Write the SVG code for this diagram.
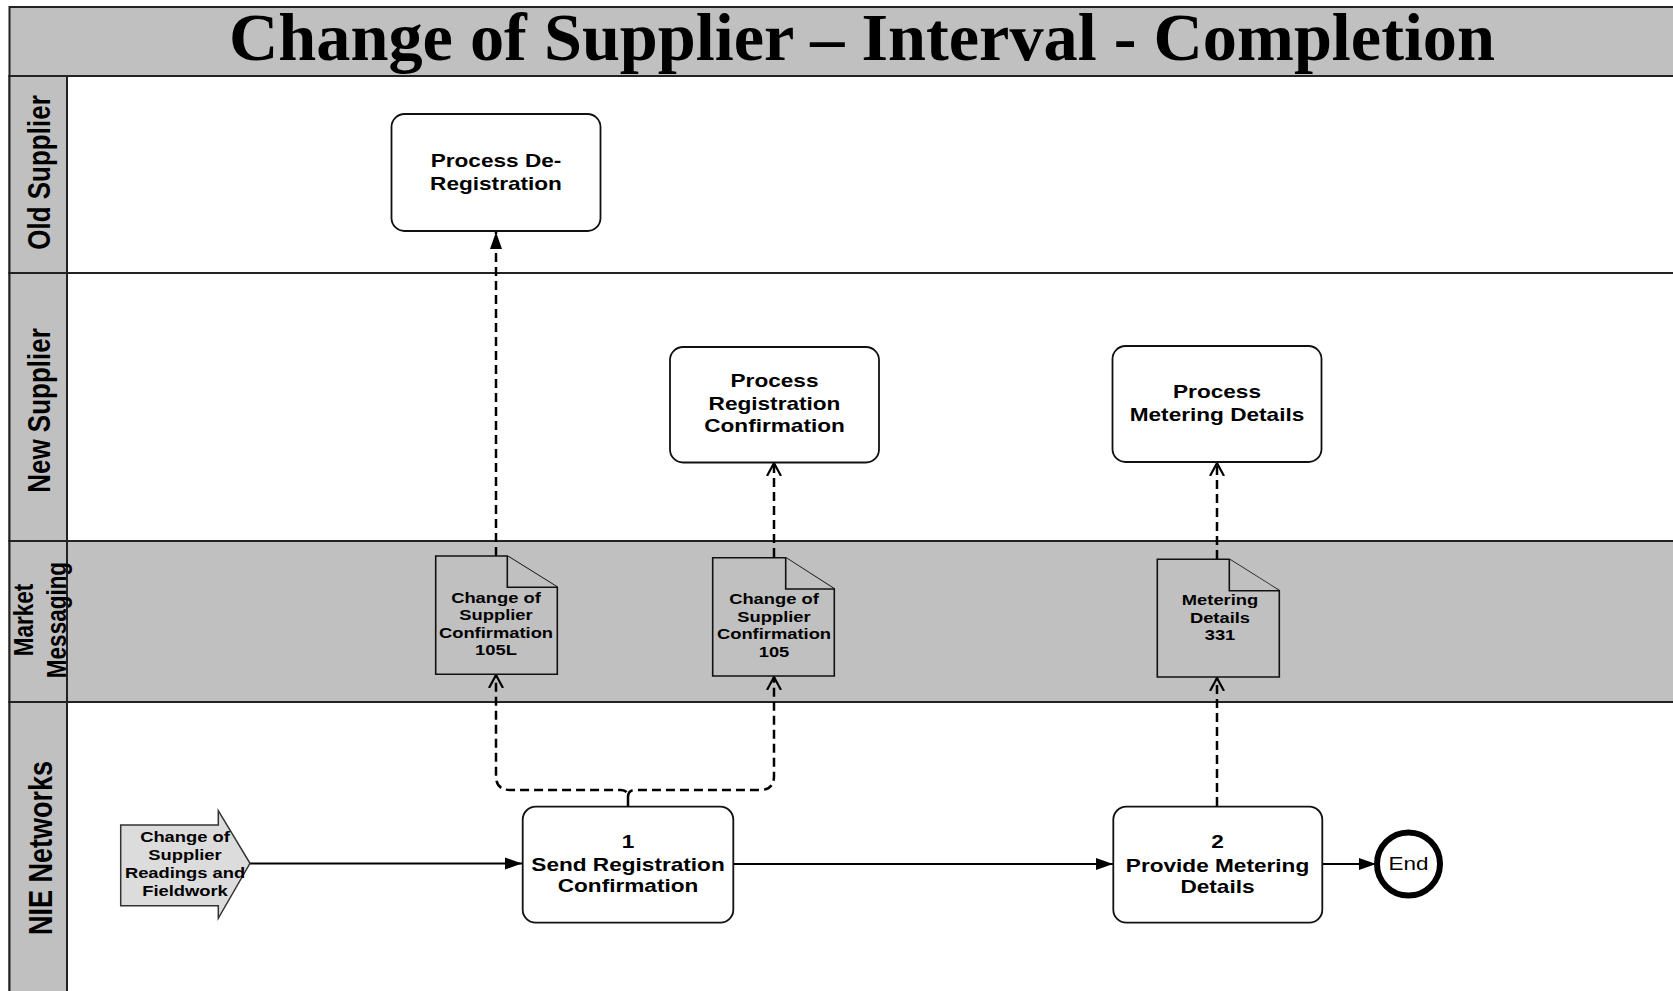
<svg xmlns="http://www.w3.org/2000/svg" width="1673" height="991" viewBox="0 0 1673 991">
<style>
.band{fill:#c0c0c0;stroke:#222;stroke-width:2}
.lane{fill:#ffffff;stroke:#222;stroke-width:2}
.lanegray{fill:#c0c0c0;stroke:#222;stroke-width:2}
.box{fill:#ffffff;stroke:#111;stroke-width:1.8}
.doc{fill:#c0c0c0;stroke:#111;stroke-width:1.6}
.lt{font-family:"Liberation Sans",Arial,sans-serif;font-weight:bold;fill:#000}
.nt{font-family:"Liberation Sans",Arial,sans-serif;font-weight:bold;font-size:19px;fill:#000;text-anchor:middle}
.dt{font-family:"Liberation Sans",Arial,sans-serif;font-weight:bold;font-size:15.3px;fill:#000;text-anchor:middle}
.solid{fill:none;stroke:#000;stroke-width:2}
.dash{fill:none;stroke:#000;stroke-width:2.5;stroke-dasharray:9 5}
</style>
<defs>
<marker id="filled" markerUnits="userSpaceOnUse" markerWidth="18" markerHeight="14" refX="17" refY="7" orient="auto">
<path d="M0,1 L17,7 L0,13 z" fill="#000"/>
</marker>
<marker id="open" markerUnits="userSpaceOnUse" markerWidth="16" markerHeight="18" refX="13" refY="8" orient="auto">
<path d="M0,1 L13,8 L0,15" fill="none" stroke="#000" stroke-width="2.2"/>
</marker>
</defs>

<g id="lanes">
<rect class="band" x="9.5" y="7" width="1680" height="69"/>
<text x="862" y="60" font-family="'Liberation Serif','Times New Roman',serif" font-weight="bold" font-size="67" text-anchor="middle" textLength="1266" lengthAdjust="spacingAndGlyphs" fill="#000">Change of Supplier – Interval - Completion</text>
<rect class="lane" x="9.5" y="76" width="1680" height="197"/>
<rect class="lane" x="9.5" y="273" width="1680" height="268"/>
<rect class="lanegray" x="9.5" y="541" width="1680" height="161"/>
<rect class="lane" x="9.5" y="702" width="1680" height="300"/>
<rect class="band" x="9.5" y="76" width="57.5" height="197"/>
<rect class="band" x="9.5" y="273" width="57.5" height="268"/>
<rect class="band" x="9.5" y="541" width="57.5" height="161"/>
<rect class="band" x="9.5" y="702" width="57.5" height="300"/>
<text class="lt" font-size="26" text-anchor="middle" transform="translate(50,172.5) rotate(-90) scale(1,1.2)">Old Supplier</text>
<text class="lt" font-size="26" text-anchor="middle" transform="translate(50,410.5) rotate(-90) scale(1,1.2)">New Supplier</text>
<text class="lt" font-size="22.5" text-anchor="middle" transform="translate(33,620) rotate(-90) scale(1,1.2)">Market</text>
<text class="lt" font-size="22.5" text-anchor="middle" transform="translate(66,620) rotate(-90) scale(1,1.2)">Messaging</text>
<text class="lt" font-size="27" text-anchor="middle" transform="translate(52,848) rotate(-90) scale(1,1.2)">NIE Networks</text>
</g>

<g id="connectors">
<line class="solid" x1="250" y1="863.5" x2="522" y2="863.5" marker-end="url(#filled)"/>
<line class="solid" x1="733" y1="864" x2="1113" y2="864" marker-end="url(#filled)"/>
<line class="solid" x1="1322" y1="864" x2="1376" y2="864" marker-end="url(#filled)"/>
<line class="dash" x1="496" y1="556" x2="496" y2="232" marker-end="url(#filled)"/>
<path class="dash" d="M628,806 L628,797 Q628,790 621,790 L510,790 Q496,790 496,776 L496,675" marker-end="url(#open)"/>
<path class="dash" d="M628,797 Q628,790 635,790 L760,790 Q774,790 774,776 L774,677" marker-end="url(#open)"/>
<line class="dash" x1="774" y1="557" x2="774" y2="463" marker-end="url(#open)"/>
<line class="dash" x1="1217" y1="559" x2="1217" y2="463" marker-end="url(#open)"/>
<line class="dash" x1="1217" y1="806" x2="1217" y2="678" marker-end="url(#open)"/>
</g>

<g id="process-de-registration">
<rect class="box" x="391.5" y="114" width="209" height="117" rx="13"/>
<g transform="matrix(1.19 0 0 1 496 0)"><text class="nt" x="0" y="167.5">Process De-</text><text class="nt" x="0" y="190">Registration</text></g>
</g>

<g id="process-registration-confirmation">
<rect class="box" x="670" y="347" width="209" height="115.5" rx="13"/>
<g transform="matrix(1.19 0 0 1 774.5 0)"><text class="nt" x="0" y="387.5">Process</text><text class="nt" x="0" y="410">Registration</text><text class="nt" x="0" y="432">Confirmation</text></g>
</g>

<g id="process-metering-details">
<rect class="box" x="1112.5" y="346" width="209" height="116" rx="13"/>
<g transform="matrix(1.19 0 0 1 1217 0)"><text class="nt" x="0" y="398.5">Process</text><text class="nt" x="0" y="421">Metering Details</text></g>
</g>

<g id="doc-105L">
<path class="doc" d="M435.7,556 L507.3,556 L557.3,587.3 L557.3,674.3 L435.7,674.3 Z"/>
<path class="doc" fill="none" d="M507.3,556 L507.3,587.3 L557.3,587.3"/>
<g transform="matrix(1.2 0 0 1 496 0)"><text class="dt" x="0" y="603">Change of</text><text class="dt" x="0" y="620.5">Supplier</text><text class="dt" x="0" y="638">Confirmation</text><text class="dt" x="0" y="655.5">105L</text></g>
</g>

<g id="doc-105">
<path class="doc" d="M712.7,557.7 L785.7,557.7 L834.3,589 L834.3,676 L712.7,676 Z"/>
<path class="doc" fill="none" d="M785.7,557.7 L785.7,589 L834.3,589"/>
<g transform="matrix(1.2 0 0 1 774 0)"><text class="dt" x="0" y="604.5">Change of</text><text class="dt" x="0" y="622">Supplier</text><text class="dt" x="0" y="639.5">Confirmation</text><text class="dt" x="0" y="657">105</text></g>
</g>

<g id="doc-331">
<path class="doc" d="M1157.3,559.3 L1229.3,559.3 L1279.3,590.7 L1279.3,677 L1157.3,677 Z"/>
<path class="doc" fill="none" d="M1229.3,559.3 L1229.3,590.7 L1279.3,590.7"/>
<g transform="matrix(1.2 0 0 1 1220 0)"><text class="dt" x="0" y="605">Metering</text><text class="dt" x="0" y="622.7">Details</text><text class="dt" x="0" y="640.5">331</text></g>
</g>

<g id="start">
<path d="M120.7,825 L218.3,825 L218.3,810.7 L250,863.3 L218.3,918.3 L218.3,905.7 L120.7,905.7 Z" fill="#dcdcdc" stroke="#333" stroke-width="1.5"/>
<g transform="matrix(1.2 0 0 1 185 0)"><text class="dt" x="0" y="841.7">Change of</text><text class="dt" x="0" y="860">Supplier</text><text class="dt" x="0" y="878.3">Readings and</text><text class="dt" x="0" y="896">Fieldwork</text></g>
</g>

<g id="send-registration-confirmation">
<rect class="box" x="522.7" y="806.7" width="210.6" height="116" rx="13"/>
<g transform="matrix(1.19 0 0 1 628 0)"><text class="nt" x="0" y="848.5">1</text><text class="nt" x="0" y="870.7">Send Registration</text><text class="nt" x="0" y="892.3">Confirmation</text></g>
</g>

<g id="provide-metering-details">
<rect class="box" x="1113.3" y="806.7" width="209" height="116" rx="13"/>
<g transform="matrix(1.19 0 0 1 1217.5 0)"><text class="nt" x="0" y="848.5">2</text><text class="nt" x="0" y="871.7">Provide Metering</text><text class="nt" x="0" y="892.7">Details</text></g>
</g>

<g id="end">
<circle cx="1408.5" cy="864" r="31.5" fill="#fff" stroke="#000" stroke-width="6"/>
<g transform="matrix(1.2 0 0 1 1408.5 0)"><text x="0" y="870.5" font-family="'Liberation Sans',Arial,sans-serif" font-size="18.7" text-anchor="middle" fill="#000">End</text></g>
</g>
</svg>
